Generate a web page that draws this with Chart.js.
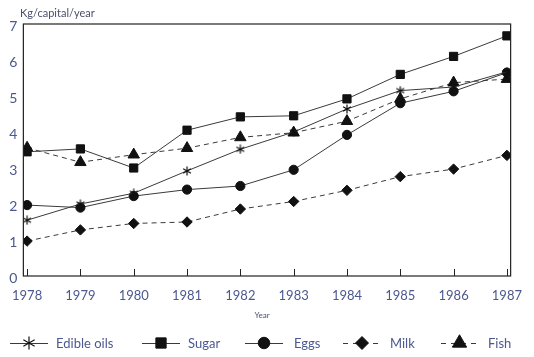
<!DOCTYPE html>
<html><head><meta charset="utf-8">
<script src="https://cdn.jsdelivr.net/npm/chart.js@4"></script>
<style>html,body{margin:0;padding:0;background:#fff;}#wrap{width:534px;height:357px;}</style>
</head><body><div id="wrap"><canvas id="c" width="534" height="357"></canvas></div>
<script>
const years = [1978,1979,1980,1981,1982,1983,1984,1985,1986,1987];
const yTicks = [0,1,2,3,4,5,6,7];
const edibleOils = [1.55,2.0,2.3,2.92,3.52,4.0,4.64,5.15,5.25,5.67];
const sugar = [3.45,3.53,3.0,4.05,4.42,4.45,4.92,5.6,6.1,6.67];
const eggs = [1.97,1.9,2.22,2.4,2.5,2.95,3.92,4.8,5.13,5.65];
const milk = [0.97,1.28,1.46,1.5,1.86,2.07,2.38,2.76,2.97,3.35];
const fish = [3.56,3.16,3.37,3.55,3.85,3.98,4.3,4.92,5.37,5.47];
const seriesNames = ['Edible oils','Sugar','Eggs','Milk','Fish'];
const yTitle = 'Kg/capital/year';
const xTitle = 'Year';

const tickColor = '#4c5890';
const lineColor = '#3a3a3a';
const markColor = '#111';

function asterisk(size){
  const c = document.createElement('canvas');
  c.width = size; c.height = size;
  const g = c.getContext('2d');
  g.strokeStyle = '#111'; g.lineWidth = 1.2;
  const r = size/2 - 0.5, cx = size/2, cy = size/2;
  g.beginPath();
  [90, 30, 150].forEach(a => {
    const rad = a*Math.PI/180;
    g.moveTo(cx - Math.cos(rad)*r, cy - Math.sin(rad)*r);
    g.lineTo(cx + Math.cos(rad)*r, cy + Math.sin(rad)*r);
  });
  g.stroke();
  return c;
}
const starImg = asterisk(10);
const starImgLegend = asterisk(14);

function pts(arr){ return arr.map((v,i)=>({x:years[i], y:v})); }

const styles = [
  {style: starImg, legendStyle: starImgLegend, r: 5, dash: []},
  {style: 'rect', r: 5.8, dash: []},
  {style: 'circle', r: 4.6, dash: []},
  {style: 'rectRot', r: 5.2, dash: [5,4]},
  {style: 'triangle', r: 6.6, dash: [5,4]},
];
const allData = [edibleOils, sugar, eggs, milk, fish];

const datasets = allData.map((d,i)=>({
  label: seriesNames[i],
  data: pts(d),
  borderColor: lineColor,
  borderWidth: 1,
  borderDash: styles[i].dash,
  pointStyle: styles[i].style,
  pointRadius: styles[i].r,
  pointBackgroundColor: markColor,
  pointBorderColor: markColor,
  pointBorderWidth: 1,
  tension: 0,
  fill: false
}));

const framePlugin = {
  id: 'frame',
  afterDraw(chart){
    const {ctx, chartArea:a, scales} = chart;
    ctx.save();
    ctx.strokeStyle = '#222';
    ctx.lineWidth = 1.2;
    ctx.strokeRect(a.left, a.top, a.right - a.left, a.bottom - a.top);
    // inward x ticks
    ctx.lineWidth = 1;
    ctx.beginPath();
    years.forEach(yr => {
      const x = Math.round(scales.x.getPixelForValue(yr)) + 0.5;
      ctx.moveTo(x, a.bottom);
      ctx.lineTo(x, a.bottom - 7);
    });
    ctx.stroke();
    // titles
    ctx.fillStyle = '#4a4f6a';
    ctx.font = '11px Lato';
    ctx.textBaseline = 'middle';
    ctx.textAlign = 'left';
    ctx.fillText(yTitle, 20, 13);
    ctx.font = '8px Lato';
    ctx.textAlign = 'center';
    ctx.fillText(xTitle, 262, 315);
    // legend
    const legendY = 343;
    const items = [
      {x0: 10, x1: 48, tx: 56},
      {x0: 142, x1: 180, tx: 188},
      {x0: 245, x1: 283, tx: 294},
      {x0: 343, x1: 381, tx: 390},
      {x0: 441, x1: 478, tx: 488},
    ];
    items.forEach((it,i) => {
      ctx.save();
      ctx.strokeStyle = lineColor;
      ctx.lineWidth = 1;
      ctx.setLineDash(styles[i].dash.length ? [5,5] : []);
      ctx.beginPath();
      ctx.moveTo(it.x0, legendY + 0.5);
      ctx.lineTo(it.x1, legendY + 0.5);
      ctx.stroke();
      ctx.setLineDash([]);
      ctx.fillStyle = markColor;
      ctx.strokeStyle = markColor;
      const mx = (it.x0 + it.x1)/2;
      const st = styles[i].legendStyle || styles[i].style;
      Chart.helpers.drawPoint(ctx, {pointStyle: st, radius: styles[i].r * 1.25, rotation: 0, borderWidth: 1}, mx, legendY);
      ctx.restore();
      ctx.fillStyle = tickColor;
      ctx.font = '13px Lato';
      ctx.textAlign = 'left';
      ctx.textBaseline = 'middle';
      ctx.fillText(seriesNames[i], it.tx, legendY + 1);
    });
    ctx.restore();
  }
};

new Chart(document.getElementById('c'), {
  type: 'line',
  data: { datasets },
  options: {
    responsive: false,
    animation: false,
    layout: { padding: { left: 0, right: 5, top: 24, bottom: 0 } },
    plugins: { legend: { display: false }, tooltip: { enabled: false } },
    scales: {
      x: {
        type: 'linear',
        min: 1977.93, max: 1987.07,
        afterBuildTicks(s){ s.ticks = years.map(v => ({value: v})); },
        afterFit(s){ s.height = 81; },
        grid: { display: false, drawTicks: false },
        border: { display: false },
        ticks: { color: tickColor, font: { family: 'Lato', size: 13 }, padding: 12, maxRotation: 0, autoSkip: false, callback: v => String(v) }
      },
      y: {
        min: 0, max: 7,
        afterBuildTicks(s){ s.ticks = yTicks.map(v => ({value: v})); },
        afterFit(s){ s.width = 18; },
        grid: { display: false, drawTicks: false },
        border: { display: false },
        ticks: { color: tickColor, font: { family: 'Lato', size: 14 }, padding: 6, labelOffset: 2 }
      }
    }
  },
  plugins: [framePlugin]
});
</script>
</body></html>
